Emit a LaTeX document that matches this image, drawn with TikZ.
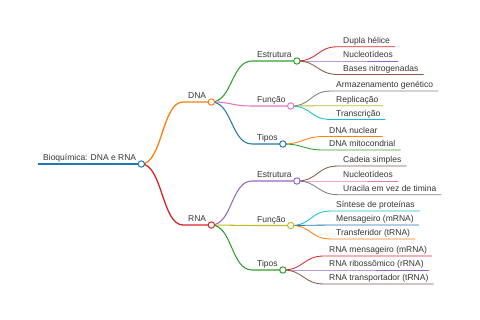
\documentclass[tikz,border=0pt]{standalone}
\usepackage{fontspec}
\setmainfont{Liberation Sans}
\definecolor{cA}{HTML}{1F77B4}
\definecolor{cB}{HTML}{FF7F0E}
\definecolor{cC}{HTML}{2CA02C}
\definecolor{cD}{HTML}{D62728}
\definecolor{cE}{HTML}{9467BD}
\definecolor{cF}{HTML}{8C564B}
\definecolor{cG}{HTML}{E377C2}
\definecolor{cH}{HTML}{7F7F7F}
\definecolor{cI}{HTML}{BCBD22}
\definecolor{cJ}{HTML}{17BECF}
\definecolor{txt}{HTML}{333333}
\tikzset{
  lbl/.style={anchor=south west, inner xsep=5pt, inner ysep=1.2pt, text height=6.2pt, text depth=1.8pt, text=txt, font=\fontsize{8.5}{10}\selectfont},
  lv0/.style={line width=1.7pt},
  lv1/.style={line width=1.3pt},
  lv2/.style={line width=1.05pt},
  lv3/.style={line width=0.85pt},
  knob/.style={line width=1pt}
}
\newcommand\mmedge[3]{\draw[#3] (#1.south east) .. controls +(21,0) and +(-21,0) .. (#2.south west) -- (#2.south east);}
\newcommand\mmknob[2]{\draw[knob,draw=#2,fill=white] (#1.south east) circle[radius=3.2];}
\begin{document}
\begin{tikzpicture}[x=1pt,y=-1pt]
\useasboundingbox (0,0) rectangle (480,320);
% nodes
\node[lbl] (root) at (38,164) {Bioquímica: DNA e RNA};
\node[lbl] (dna) at (183,102) {DNA};
\node[lbl] (rna) at (183,225) {RNA};
\node[lbl] (de) at (252,61) {Estrutura};
\node[lbl] (df) at (252,106) {Função};
\node[lbl] (dt) at (252,144) {Tipos};
\node[lbl] (re) at (252,181) {Estrutura};
\node[lbl] (rf) at (252,225.5) {Função};
\node[lbl] (rt) at (252,270) {Tipos};
\node[lbl] (de1) at (338,46.7) {Dupla hélice};
\node[lbl] (de2) at (338,61) {Nucleotídeos};
\node[lbl] (de3) at (338,74.5) {Bases nitrogenadas};
\node[lbl] (df1) at (331,91) {Armazenamento genético};
\node[lbl] (df2) at (331,105.7) {Replicação};
\node[lbl] (df3) at (331,119.5) {Transcrição};
\node[lbl] (dt1) at (324,136.5) {DNA nuclear};
\node[lbl] (dt2) at (324,150) {DNA mitocondrial};
\node[lbl] (re1) at (338,166) {Cadeia simples};
\node[lbl] (re2) at (338,181) {Nucleotídeos};
\node[lbl] (re3) at (338,194.7) {Uracila em vez de timina};
\node[lbl] (rf1) at (331,211) {Síntese de proteínas};
\node[lbl] (rf2) at (331,225) {Mensageiro (mRNA)};
\node[lbl] (rf3) at (331,239) {Transferidor (tRNA)};
\node[lbl] (rt1) at (324,256) {RNA mensageiro (mRNA)};
\node[lbl] (rt2) at (324,270) {RNA ribossômico (rRNA)};
\node[lbl] (rt3) at (324,284) {RNA transportador (tRNA)};
% root line
\draw[lv0,cA] (root.south west) -- (root.south east);
% level 1
\mmedge{root}{dna}{lv1,cB}
\mmedge{root}{rna}{lv1,cD}
% level 2
\mmedge{dna}{de}{lv2,cC}
\mmedge{dna}{df}{lv2,cG}
\mmedge{dna}{dt}{lv2,cA}
\mmedge{rna}{re}{lv2,cE}
\mmedge{rna}{rf}{lv2,cI}
\mmedge{rna}{rt}{lv2,cC}
% leaves
\mmedge{de}{de1}{lv3,cD}
\mmedge{de}{de2}{lv3,cE}
\mmedge{de}{de3}{lv3,cF}
\mmedge{df}{df1}{lv3,cH}
\mmedge{df}{df2}{lv3,cI}
\mmedge{df}{df3}{lv3,cJ}
\mmedge{dt}{dt1}{lv3,cB}
\mmedge{dt}{dt2}{lv3,cC}
\mmedge{re}{re1}{lv3,cF}
\mmedge{re}{re2}{lv3,cG}
\mmedge{re}{re3}{lv3,cH}
\mmedge{rf}{rf1}{lv3,cJ}
\mmedge{rf}{rf2}{lv3,cA}
\mmedge{rf}{rf3}{lv3,cB}
\mmedge{rt}{rt1}{lv3,cD}
\mmedge{rt}{rt2}{lv3,cE}
\mmedge{rt}{rt3}{lv3,cF}
% knobs
\mmknob{root}{cA}
\mmknob{dna}{cB}
\mmknob{rna}{cD}
\mmknob{de}{cC}
\mmknob{df}{cG}
\mmknob{dt}{cA}
\mmknob{re}{cE}
\mmknob{rf}{cI}
\mmknob{rt}{cC}
\end{tikzpicture}
\end{document}
